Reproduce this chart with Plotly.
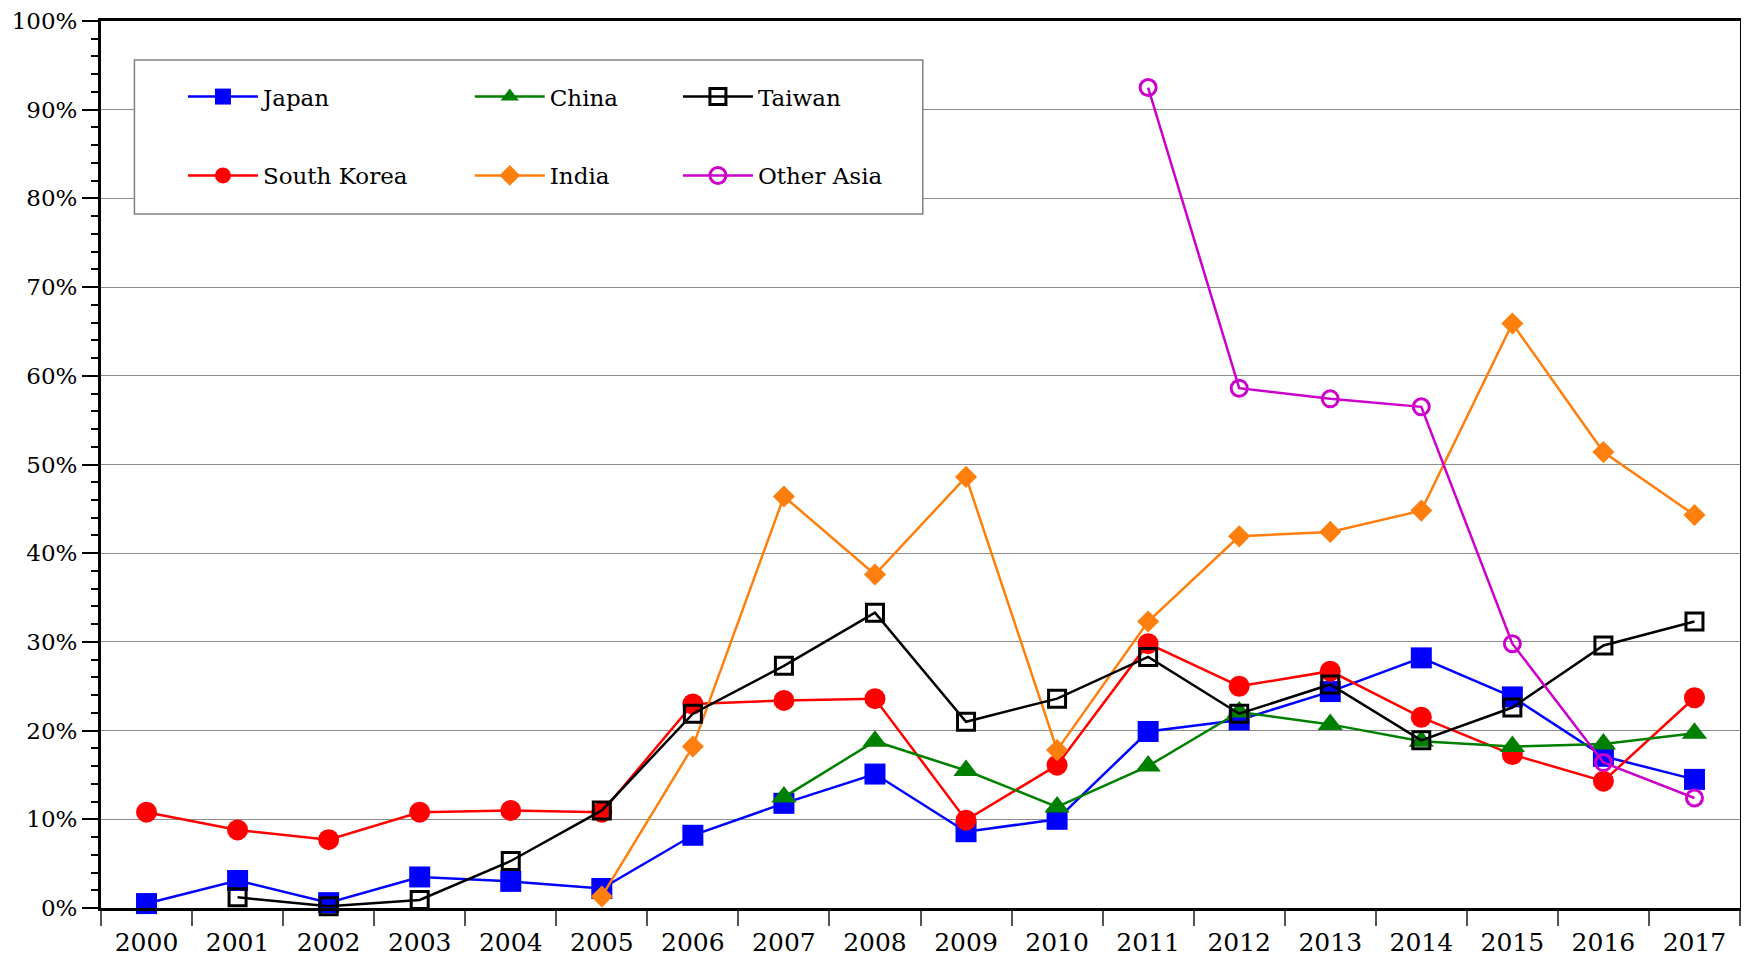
import plotly.graph_objects as go

years = ["2000", "2001", "2002", "2003", "2004", "2005", "2006", "2007", "2008",
         "2009", "2010", "2011", "2012", "2013", "2014", "2015", "2016", "2017"]

japan = [0.5, 3.1, 0.6, 3.5, 3.0, 2.2, 8.2, 11.8, 15.1, 8.6, 10.0, 19.9, 21.2,
         24.4, 28.2, 23.8, 17.1, 14.5]
south_korea = [10.8, 8.8, 7.7, 10.8, 11.0, 10.8, 23.0, 23.4, 23.6, 9.9, 16.1,
               29.8, 25.0, 26.7, 21.5, 17.3, 14.3, 23.7]
china = [None, None, None, None, None, None, None, 12.5, 18.8, 15.5, 11.4, 16.0,
         22.1, 20.7, 18.8, 18.2, 18.5, 19.7]
taiwan = [None, 1.2, 0.2, 0.9, 5.3, 11.0, 21.9, 27.3, 33.3, 21.0, 23.6, 28.3,
          21.9, 25.2, 18.9, 22.6, 29.6, 32.3]
india = [None, None, None, None, None, 1.3, 18.2, 46.4, 37.6, 48.6, 17.8, 32.3,
         41.9, 42.4, 44.8, 65.9, 51.4, 44.3]
other_asia = [None, None, None, None, None, None, None, None, None, None, None,
              92.5, 58.6, 57.4, 56.5, 29.8, 16.4, 12.4]

y_ticks = [0, 10, 20, 30, 40, 50, 60, 70, 80, 90, 100]
y_labels = ["0%", "10%", "20%", "30%", "40%", "50%", "60%", "70%", "80%", "90%", "100%"]

FONT = "DejaVu Serif"

# (name, values, color, symbol, size, legend)
series = [
    ("Japan", japan, "#0000ff", "square", 21, "legend"),
    ("South Korea", south_korea, "#ff0000", "circle", 21, "legend"),
    ("China", china, "#008000", "triangle-up", 22, "legend2"),
    ("India", india, "#ff7f0e", "diamond", 17, "legend2"),
    ("Taiwan", taiwan, "#000000", "square-open", 17, "legend3"),
    ("Other Asia", other_asia, "#cc00cc", "circle-open", 16, "legend3"),
]

fig = go.Figure()
for name, values, color, symbol, size, legend in series:
    open_marker = symbol.endswith("open")
    fig.add_trace(
        go.Scatter(
            x=years,
            y=values,
            name=name,
            mode="lines+markers",
            line=dict(color=color, width=2.5),
            marker=dict(
                symbol=symbol,
                size=size,
                color=color,
                line=dict(color=color, width=3 if open_marker else 0),
            ),
            cliponaxis=False,
            legend=legend,
            legendgroup=name,
        )
    )

legend_style = dict(
    xanchor="left",
    yanchor="top",
    y=0.939,
    bgcolor="rgba(0,0,0,0)",
    borderwidth=0,
    font=dict(family=FONT, size=23, color="black"),
    tracegroupgap=46,
    itemwidth=70,
    orientation="v",
)

# the page body adds an 8px offset, so the figure is 8px smaller
fig.update_layout(
    width=1741,
    height=958,
    margin=dict(l=93, r=9, t=13, b=58),
    paper_bgcolor="white",
    plot_bgcolor="white",
    font=dict(family=FONT, size=24, color="black"),
    showlegend=True,
    legend=dict(legend_style, x=0.050),
    legend2=dict(legend_style, x=0.225),
    legend3=dict(legend_style, x=0.352),
    shapes=[
        dict(
            type="rect",
            xref="paper",
            yref="paper",
            x0=0.0204,
            x1=0.5014,
            y0=0.7824,
            y1=0.956,
            line=dict(color="#808080", width=1.5),
            fillcolor="white",
            layer="above",
        )
    ],
)

fig.update_xaxes(
    type="category",
    categoryorder="array",
    categoryarray=years,
    range=[-0.5, 17.5],
    automargin=False,
    showgrid=False,
    showline=True,
    linecolor="black",
    linewidth=3,
    mirror=True,
    ticks="outside",
    tickson="boundaries",
    ticklen=15,
    tickwidth=1.5,
    tickcolor="#555555",
    ticklabelstandoff=10,
    tickfont=dict(family=FONT, size=25, color="black"),
)

fig.update_yaxes(
    range=[0, 100],
    tickvals=y_ticks,
    ticktext=y_labels,
    automargin=False,
    ticklabeloverflow="allow",
    showgrid=True,
    gridcolor="#8c8c8c",
    gridwidth=1,
    zeroline=False,
    showline=True,
    linecolor="black",
    linewidth=3,
    mirror=True,
    ticks="outside",
    ticklen=16,
    tickwidth=2,
    tickcolor="black",
    minor=dict(dtick=2, ticks="outside", ticklen=7, tickwidth=1.5,
               tickcolor="black", showgrid=False),
    tickfont=dict(family=FONT, size=23, color="black"),
)

fig.write_html("out.html")
